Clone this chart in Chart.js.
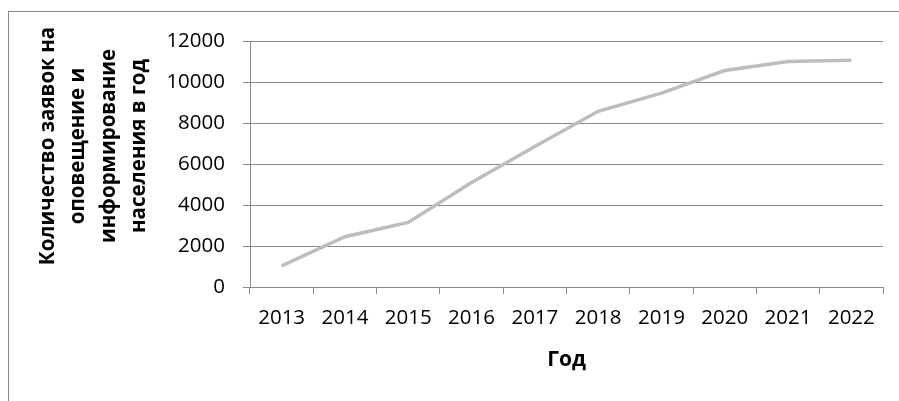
<!DOCTYPE html>
<html>
<head>
<meta charset="utf-8">
<script src="https://cdn.jsdelivr.net/npm/chart.js@4"></script>
<style>
  body { margin: 0; overflow: hidden; background: #fff; }
  #frame { position: absolute; left: 8px; top: 11px; width: 1000px; height: 1000px; border: 1px solid #8a8a8a; }
  #chart { position: absolute; left: 0; top: 0; }
</style>
</head>
<body>
<div id="frame"></div>
<canvas id="chart" width="899" height="401"></canvas>
<script>
// data
const years = ["2013", "2014", "2015", "2016", "2017", "2018", "2019", "2020", "2021", "2022"];
const requests = [1030, 2450, 3150, 5100, 6850, 8570, 9460, 10560, 11000, 11060];
const yTitleLines = ["Количество заявок на", "оповещение и", "информирование", "населения в год"];
const xTitle = "Год";

const FONT = "'Open Sans', 'Liberation Sans', sans-serif";

// multi line rotated title on the left, Excel style
const yTitlePlugin = {
  id: "yTitle",
  afterDraw(chart) {
    const ctx = chart.ctx;
    const xs = [48, 78, 109, 139];
    ctx.save();
    ctx.font = "bold 20.5px " + FONT;
    ctx.fillStyle = "#000";
    ctx.textAlign = "center";
    ctx.textBaseline = "middle";
    yTitleLines.forEach((line, i) => {
      ctx.save();
      ctx.translate(xs[i], 146);
      ctx.rotate(-Math.PI / 2);
      ctx.fillText(line, 0, 0);
      ctx.restore();
    });
    ctx.restore();
  }
};

new Chart(document.getElementById("chart"), {
  type: "line",
  data: {
    labels: years,
    datasets: [{
      data: requests,
      borderColor: "#bdbdbd",
      borderWidth: 3.5,
      pointRadius: 0,
      tension: 0,
      fill: false
    }]
  },
  options: {
    responsive: false,
    animation: false,
    devicePixelRatio: 1,
    layout: { padding: { left: 0, right: 16, top: 41, bottom: 0 } },
    plugins: { legend: { display: false }, tooltip: { enabled: false } },
    scales: {
      x: {
        offset: true,
        grid: { offset: true, drawOnChartArea: false, drawTicks: true, tickLength: 7, color: "#8a8a8a" },
        border: { color: "#8a8a8a" },
        ticks: { color: "#000", font: { family: FONT, size: 20.5 }, padding: 12, maxRotation: 0, autoSkip: false },
        title: { display: true, text: xTitle, color: "#000", font: { family: FONT, size: 21, weight: "bold" }, padding: { top: 0, bottom: 28 } },
        afterFit(scale) { scale.height = 114; }
      },
      y: {
        min: 0,
        max: 12000,
        ticks: {
          stepSize: 2000, color: "#000", font: { family: FONT, size: 20.5 }, padding: 18,
          callback: (v) => String(v)
        },
        grid: { color: "#8a8a8a", tickLength: 7 },
        border: { color: "#8a8a8a" },
        afterFit(scale) { scale.width = 250; }
      }
    }
  },
  plugins: [yTitlePlugin]
});
</script>
</body>
</html>
